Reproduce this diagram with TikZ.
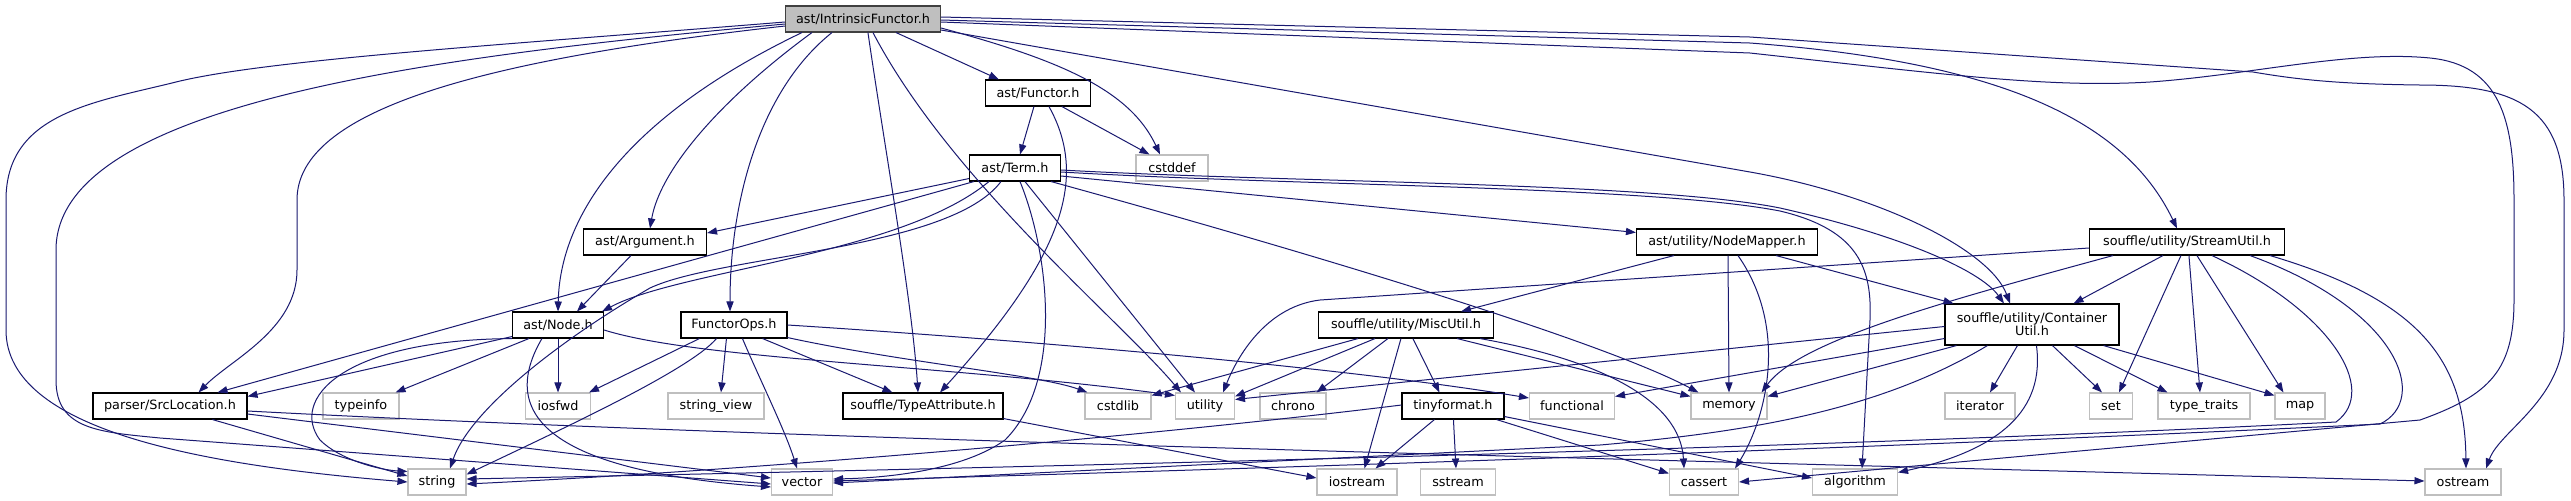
\documentclass[tikz,border=0pt]{standalone}
\usepackage{fontspec}
\setmainfont{DejaVu Sans}
\usetikzlibrary{arrows.meta,calc}
\definecolor{edgec}{HTML}{191970}
\definecolor{sysc}{HTML}{BFBFBF}
\definecolor{mainfill}{HTML}{BFBFBF}
\definecolor{mainline}{HTML}{404040}
\begin{document}
\begin{tikzpicture}[x=0.5pt,y=-0.5pt,
  box/.style={draw=black, line width=0.55pt, fill=white, inner sep=0pt, minimum height=13pt,
    font=\fontsize{6.4pt}{6.7pt}\selectfont, align=center},
  sys/.style={box, draw=sysc},
  mainbox/.style={box, fill=mainfill, draw=mainline},
  wd/.style={minimum width=#1*0.5pt},
  ed/.style={draw=edgec, line width=0.5pt, -{Triangle[length=5pt,width=3.6pt]}}]
\fill[white] (0,0) rectangle (2571,500);
\useasboundingbox (0,0) rectangle (2571,500);
% nodes
\node[mainbox,wd=155] (IF) at (863,19) {ast/IntrinsicFunctor.h};
\node[box,wd=105] (Functor) at (1038,93) {ast/Functor.h};
\node[box,wd=91] (Term) at (1015,168) {ast/Term.h};
\node[sys,wd=72] (cstddef) at (1172,168) {cstddef};
\node[box,wd=123] (Arg) at (645,242) {ast/Argument.h};
\node[box,wd=181] (NM) at (1727,242) {ast/utility/NodeMapper.h};
\node[box,wd=195] (SU) at (2187,242) {souffle/utility/StreamUtil.h};
\node[box,wd=91] (Node) at (558,325) {ast/Node.h};
\node[box,wd=106] (FOps) at (734,325) {FunctorOps.h};
\node[box,wd=175] (MU) at (1406,325) {souffle/utility/MiscUtil.h};
\node[box,wd=174,minimum height=20.5pt] (CU) at (2032,324.5) {souffle/utility/Container\\Util.h};
\node[box,wd=154] (SrcLoc) at (170,406) {parser/SrcLocation.h};
\node[sys,wd=76] (typeinfo) at (361,406) {typeinfo};
\node[sys,wd=65] (iosfwd) at (558,406) {iosfwd};
\node[sys,wd=96] (stringview) at (716,406) {string\_view};
\node[box,wd=160] (TA) at (923,406) {souffle/TypeAttribute.h};
\node[sys,wd=66] (cstdlib) at (1118,406) {cstdlib};
\node[sys,wd=59] (utility) at (1205,406) {utility};
\node[sys,wd=66] (chrono) at (1293,406) {chrono};
\node[box,wd=102] (TF) at (1453,406) {tinyformat.h};
\node[sys,wd=85] (functional) at (1572,406) {functional};
\node[sys,wd=76] (memory) at (1729,406) {memory};
\node[sys,wd=70] (iterator) at (1980,406) {iterator};
\node[sys,wd=43] (set) at (2111,406) {set};
\node[sys,wd=92] (typetraits) at (2204,406) {type\_traits};
\node[sys,wd=50] (map) at (2300,406) {map};
\node[sys,wd=58] (string) at (437,482) {string};
\node[sys,wd=61] (vector) at (802,482) {vector};
\node[sys,wd=80] (iostream) at (1357,482) {iostream};
\node[sys,wd=75] (sstream) at (1458,482) {sstream};
\node[sys,wd=69] (cassert) at (1704,482) {cassert};
\node[sys,wd=85] (algorithm) at (1855,482) {algorithm};
\node[sys,wd=76] (ostream) at (2463,482) {ostream};
% edges from IntrinsicFunctor
\draw[ed] ($(IF.west)+(0,3)$) .. controls (500,45) and (260,60) .. (172,83) .. controls (90,103) and (6,115) .. (6,200) -- (6,330) .. controls (6,430) and (200,465) .. (string.west);
\draw[ed] ($(IF.west)+(0,5)$) .. controls (450,55) and (56,100) .. (56,250) -- (56,380) .. controls (56,430) and (100,432) .. (160,438) -- ($(vector.west)+(0,2)$);
\draw[ed] ($(IF.west)+(0,7)$) .. controls (480,60) and (297,110) .. (297,200) -- (297,270) .. controls (297,330) and (230,360) .. ($(SrcLoc.north east)+(-49,0)$);
\draw[ed] ($(IF.south west)+(17,0)$) .. controls (620,120) and (560,220) .. (Node.north);
\draw[ed] ($(IF.south west)+(27,0)$) .. controls (720,100) and (660,170) .. ($(Arg.north)+(5,0)$);
\draw[ed] ($(IF.south west)+(47,0)$) .. controls (760,90) and (730,200) .. ($(FOps.north)+(-4,0)$);
\draw[ed] ($(IF.south west)+(83,0)$) .. controls (885,150) and (912,300) .. ($(TA.north)+(-5,0)$);
\draw[ed] ($(IF.south west)+(88,0)$) .. controls (950,180) and (1120,320) .. ($(utility.north west)+(6,0)$);
\draw[ed] ($(IF.south east)+(-45,0)$) -- ($(Functor.north west)+(14,0)$);
\draw[ed] ($(IF.east)+(0,9)$) .. controls (1060,60) and (1130,90) .. ($(cstddef.north)+(-12,0)$);
\draw[ed] ($(IF.east)+(0,11)$) -- (1750,172) .. controls (1880,195) and (1990,250) .. ($(CU.north)+(-22,0)$);
\draw[ed] ($(IF.east)+(0,1)$) -- (1750,43) .. controls (2000,62) and (2125,120) .. ($(SU.north)+(-10,0)$);
\draw[ed] ($(IF.east)+(0,-2)$) -- (1750,37) -- (2253,72) .. controls (2300,80) and (2340,84) .. (2420,85) .. controls (2520,85) and (2564,110) .. (2564,200) -- (2564,330) .. controls (2564,400) and (2500,430) .. ($(ostream.north)+(23,0)$);
\draw[ed] ($(IF.east)+(0,3)$) -- (1750,53) .. controls (1950,75) and (2050,88) .. (2150,82) .. controls (2250,75) and (2350,50) .. (2430,58) .. controls (2500,65) and (2514,120) .. (2514,200) -- (2514,300) .. controls (2514,370) and (2490,395) .. (2420,420) -- (cassert.east);
% Functor
\draw[ed] ($(Functor.south west)+(49,0)$) -- ($(Term.north)+(5,0)$);
\draw[ed] ($(Functor.south west)+(77,0)$) -- ($(cstddef.north west)+(14,0)$);
\draw[ed] ($(Functor.south west)+(64,0)$) .. controls (1090,180) and (1060,260) .. ($(TA.north)+(17,0)$);
% Term
\draw[ed] ($(Term.south west)+(0,-3)$) -- ($(Arg.east)+(0,-9)$);
\draw[ed] ($(Term.south west)+(5,0)$) -- ($(SrcLoc.north east)+(-30,0)$);
\draw[ed] ($(Term.south west)+(20,0)$) .. controls (900,255) and (680,270) .. ($(Node.north east)+(-2,0)$);
\draw[ed] ($(Term.south west)+(32,0)$) .. controls (950,250) and (720,255) .. (650,288) .. controls (560,340) and (470,410) .. ($(string.north)+(13,0)$);
\draw[ed] ($(Term.south)+(5,0)$) .. controls (1048,250) and (1065,380) .. (1005,440) .. controls (960,472) and (880,478) .. ($(vector.east)+(0,-3)$);
\draw[ed] ($(Term.south)+(10,0)$) -- ($(utility.north west)+(20,0)$);
\draw[ed] ($(Term.south east)+(-10,0)$) .. controls (1300,250) and (1600,340) .. ($(memory.north west)+(8,0)$);
\draw[ed] ($(Term.east)+(0,8)$) -- ($(NM.north west)+(0,4)$);
\draw[ed] ($(Term.east)+(0,2)$) .. controls (1300,183) and (1650,182) .. (1780,208) .. controls (1900,235) and (1980,270) .. ($(CU.north)+(-28,0)$);
\draw[ed] ($(Term.east)+(0,4)$) .. controls (1300,186) and (1650,186) .. (1780,211) .. controls (1860,230) and (1872,270) .. (1870,320) -- ($(algorithm.north)+(7,0)$);
% Argument
\draw[ed] ($(Arg.south west)+(48,0)$) -- ($(Node.north)+(19,0)$);
% Node
\draw[ed] ($(Node.south west)+(0,-2)$) -- ($(SrcLoc.north east)+(0,4)$);
\draw[ed] ($(Node.south west)+(17,0)$) -- ($(typeinfo.north east)+(-4,0)$);
\draw[ed] (Node.south) -- (iosfwd.north);
\draw[ed] (Node.south west) .. controls (340,340) and (290,400) .. (320,440) .. controls (340,460) and (380,470) .. ($(string.north west)+(0,3)$);
\draw[ed] ($(Node.south west)+(30,0)$) .. controls (500,410) and (540,470) .. ($(vector.west)+(0,5)$);
\draw[ed] ($(Node.east)+(0,5)$) .. controls (700,360) and (950,365) .. ($(utility.north west)+(0,3)$);
% FunctorOps
\draw[ed] ($(FOps.south west)+(19,0)$) -- ($(iosfwd.north east)+(-2,0)$);
\draw[ed] ($(FOps.south west)+(36,0)$) .. controls (690,370) and (560,430) .. ($(string.north east)+(0,6)$);
\draw[ed] ($(FOps.south west)+(46,0)$) -- ($(stringview.north)+(5,0)$);
\draw[ed] ($(FOps.south west)+(62,0)$) .. controls (760,380) and (785,430) .. ($(vector.north)+(-5,0)$);
\draw[ed] ($(FOps.south east)+(-25,0)$) -- ($(TA.north west)+(50,0)$);
\draw[ed] ($(FOps.east)+(0,0)$) .. controls (900,332) and (1300,360) .. ($(functional.west)+(0,-8)$);
\draw[ed] ($(FOps.south east)+(0,-1)$) .. controls (900,362) and (1040,375) .. ($(cstdlib.north west)+(3,0)$);
% MiscUtil
\draw[ed] ($(MU.south west)+(40,0)$) -- ($(cstdlib.north east)+(0,3)$);
\draw[ed] ($(MU.south west)+(57,0)$) -- ($(utility.north east)+(0,4)$);
\draw[ed] ($(MU.south west)+(70,0)$) -- ($(chrono.north east)+(-10,0)$);
\draw[ed] ($(MU.south west)+(83,0)$) -- ($(iostream.north west)+(48,0)$);
\draw[ed] ($(MU.south west)+(95,0)$) -- ($(TF.north west)+(38,0)$);
\draw[ed] ($(MU.south east)+(-37,0)$) -- ($(memory.north west)+(0,4)$);
\draw[ed] ($(MU.south east)+(-14,0)$) .. controls (1600,360) and (1680,400) .. ($(cassert.north)+(-20,0)$);
% NodeMapper
\draw[ed] ($(NM.south west)+(38,0)$) -- ($(MU.north east)+(-33,0)$);
\draw[ed] ($(NM.south)+(1,0)$) -- (memory.north);
\draw[ed] ($(NM.south)+(11,0)$) .. controls (1790,330) and (1765,420) .. ($(cassert.north east)+(-4,0)$);
\draw[ed] ($(NM.south east)+(-42,0)$) -- ($(CU.north west)+(9,0)$);
% StreamUtil
\draw[ed] ($(SU.west)+(0,6)$) -- (1320,300) .. controls (1270,306) and (1240,350) .. ($(utility.north east)+(-12,0)$);
\draw[ed] ($(SU.south west)+(24,0)$) .. controls (1950,300) and (1800,340) .. ($(memory.north east)+(-6,0)$);
\draw[ed] ($(SU.south west)+(74,0)$) -- ($(CU.north east)+(-46,0)$);
\draw[ed] ($(SU.south west)+(92,0)$) -- ($(set.north)+(8,0)$);
\draw[ed] ($(SU.south west)+(100,0)$) -- ($(typetraits.north)+(-4,0)$);
\draw[ed] ($(SU.south west)+(108,0)$) -- ($(map.north west)+(9,0)$);
\draw[ed] ($(SU.south west)+(123,0)$) .. controls (2330,310) and (2380,390) .. (2336,422) .. controls (1800,450) and (900,470) .. ($(string.east)+(0,-3)$);
\draw[ed] ($(SU.south east)+(-35,0)$) .. controls (2400,310) and (2430,400) .. (2380,424) .. controls (1800,452) and (1200,470) .. ($(vector.east)+(0,-1)$);
\draw[ed] ($(SU.south east)+(-15,0)$) .. controls (2420,300) and (2465,360) .. ($(ostream.north)+(3,0)$);
% ContainerUtil
\draw[ed] ($(CU.west)+(0,2)$) -- ($(utility.north east)+(0,7)$);
\draw[ed] ($(CU.west)+(0,14)$) -- ($(functional.north east)+(0,4)$);
\draw[ed] ($(CU.south west)+(12,0)$) -- ($(memory.north east)+(0,4)$);
\draw[ed] ($(CU.south west)+(43,0)$) .. controls (1880,410) and (1750,432) .. (1600,445) -- ($(vector.east)+(0,1)$);
\draw[ed] ($(CU.south west)+(73,0)$) -- ($(iterator.north)+(10,0)$);
\draw[ed] ($(CU.south west)+(92,0)$) .. controls (2045,410) and (2000,450) .. ($(algorithm.north east)+(0,4)$);
\draw[ed] ($(CU.south west)+(108,0)$) -- ($(set.north)+(-9,0)$);
\draw[ed] ($(CU.south west)+(130,0)$) -- ($(typetraits.north west)+(10,0)$);
\draw[ed] ($(CU.south east)+(-16,0)$) -- ($(map.north west)+(0,3)$);
% TypeAttribute
\draw[ed] ($(TA.south east)+(0,-1)$) -- ($(iostream.west)+(0,-4)$);
% SrcLocation
\draw[ed] ($(SrcLoc.south west)+(120,0)$) -- ($(string.west)+(0,-6)$);
\draw[ed] ($(SrcLoc.east)+(0,8)$) -- ($(vector.west)+(0,-4)$);
\draw[ed] ($(SrcLoc.east)+(0,5)$) .. controls (800,440) and (1600,458) .. ($(ostream.west)+(0,-1)$);
% tinyformat
\draw[ed] ($(TF.west)+(0,-1)$) .. controls (1200,430) and (800,468) .. ($(string.east)+(0,2)$);
\draw[ed] ($(TF.south west)+(33,0)$) -- ($(iostream.north east)+(-22,0)$);
\draw[ed] ($(TF.south west)+(52,0)$) -- ($(sstream.north)+(-2,0)$);
\draw[ed] ($(TF.south east)+(-8,0)$) -- ($(cassert.north west)+(0,5)$);
\draw[ed] ($(TF.south east)+(0,-3)$) -- ($(algorithm.west)+(0,-4)$);
\end{tikzpicture}
\end{document}
